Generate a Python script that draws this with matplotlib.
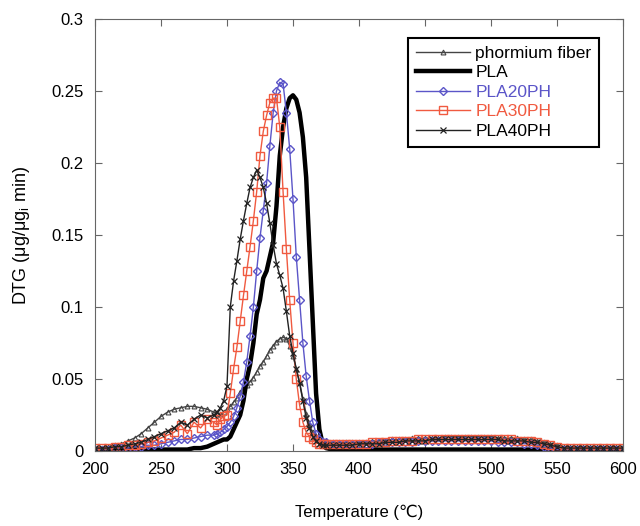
import numpy as np
import matplotlib
matplotlib.use("Agg")
from matplotlib import pyplot as plt
from matplotlib.ticker import FuncFormatter

# temperature grid: coarse at the ends, finer across the peaks
temp_low = np.arange(200, 290, 5)
temp_peak = np.arange(290, 377.5, 2.5)
temp_tail = np.arange(380, 605, 5)
temperature = np.concatenate([temp_low, temp_peak, temp_tail])

phormium = [
    0.002, 0.002, 0.003, 0.004, 0.005, 0.007, 0.009, 0.012, 0.016, 0.020, 0.024, 0.027, 0.029, 0.030, 0.031, 0.031, 0.030, 0.029,
    0.027, 0.026, 0.026, 0.027, 0.029, 0.031, 0.034, 0.037, 0.041, 0.044, 0.046, 0.048, 0.051, 0.055, 0.059, 0.062, 0.066, 0.070,
    0.073, 0.076, 0.078, 0.079, 0.078, 0.073, 0.066, 0.057, 0.048, 0.036, 0.026, 0.018, 0.013, 0.010, 0.008, 0.007, 0.007,
    0.006, 0.006, 0.006, 0.006, 0.006, 0.006, 0.007, 0.007, 0.007, 0.008, 0.008, 0.008, 0.009, 0.009, 0.009, 0.009, 0.009, 0.010,
    0.010, 0.010, 0.010, 0.010, 0.010, 0.010, 0.010, 0.009, 0.009, 0.009, 0.009, 0.008, 0.008, 0.007, 0.006, 0.005, 0.004, 0.003,
    0.003, 0.003, 0.003, 0.003, 0.003, 0.003, 0.003, 0.003, 0.003,
]
pla = [
    0.001, 0.001, 0.001, 0.001, 0.001, 0.001, 0.001, 0.001, 0.001, 0.001, 0.001, 0.001, 0.001, 0.001, 0.001, 0.002, 0.002, 0.003,
    0.005, 0.006, 0.007, 0.008, 0.008, 0.010, 0.015, 0.020, 0.025, 0.035, 0.050, 0.060, 0.075, 0.095, 0.105, 0.120, 0.125, 0.135,
    0.145, 0.170, 0.205, 0.225, 0.238, 0.245, 0.247, 0.244, 0.235, 0.218, 0.190, 0.140, 0.090, 0.040, 0.015, 0.005, 0.002,
    0.001, 0.001, 0.001, 0.001, 0.001, 0.001, 0.001, 0.001, 0.001, 0.001, 0.001, 0.001, 0.001, 0.001, 0.001, 0.001, 0.001, 0.001,
    0.001, 0.001, 0.001, 0.001, 0.001, 0.001, 0.001, 0.001, 0.001, 0.001, 0.001, 0.001, 0.001, 0.001, 0.001, 0.001, 0.001, 0.001,
    0.001, 0.001, 0.001, 0.001, 0.001, 0.001, 0.001, 0.001, 0.001,
]
pla20ph = [
    0.001, 0.001, 0.001, 0.002, 0.002, 0.002, 0.003, 0.003, 0.004, 0.004, 0.005, 0.006, 0.007, 0.008, 0.008, 0.009, 0.010, 0.011,
    0.011, 0.012, 0.013, 0.015, 0.017, 0.020, 0.024, 0.030, 0.038, 0.048, 0.062, 0.080, 0.100, 0.125, 0.148, 0.167, 0.186, 0.212,
    0.235, 0.250, 0.256, 0.255, 0.235, 0.210, 0.175, 0.135, 0.105, 0.075, 0.052, 0.035, 0.020, 0.012, 0.008, 0.006, 0.006,
    0.005, 0.005, 0.005, 0.005, 0.005, 0.005, 0.005, 0.006, 0.006, 0.006, 0.006, 0.006, 0.006, 0.007, 0.007, 0.007, 0.007, 0.007,
    0.007, 0.007, 0.007, 0.007, 0.007, 0.007, 0.007, 0.006, 0.006, 0.006, 0.006, 0.005, 0.005, 0.004, 0.003, 0.002, 0.001, 0.001,
    0.001, 0.001, 0.001, 0.001, 0.001, 0.001, 0.001, 0.001, 0.001,
]
pla30ph = [
    0.002, 0.002, 0.002, 0.003, 0.003, 0.004, 0.004, 0.005, 0.006, 0.007, 0.009, 0.011, 0.013, 0.018, 0.012, 0.020, 0.016, 0.022,
    0.020, 0.018, 0.022, 0.024, 0.025, 0.040, 0.057, 0.072, 0.090, 0.108, 0.125, 0.142, 0.160, 0.180, 0.205, 0.222, 0.233, 0.242,
    0.245, 0.245, 0.225, 0.180, 0.140, 0.105, 0.075, 0.050, 0.032, 0.020, 0.013, 0.010, 0.008, 0.006, 0.005, 0.005, 0.005,
    0.005, 0.005, 0.005, 0.005, 0.005, 0.005, 0.006, 0.006, 0.006, 0.007, 0.007, 0.007, 0.007, 0.008, 0.008, 0.008, 0.008, 0.008,
    0.008, 0.008, 0.008, 0.008, 0.008, 0.008, 0.008, 0.008, 0.008, 0.008, 0.007, 0.007, 0.007, 0.006, 0.005, 0.004, 0.003, 0.002,
    0.002, 0.002, 0.002, 0.002, 0.002, 0.002, 0.002, 0.002, 0.002,
]
pla40ph = [
    0.002, 0.002, 0.002, 0.003, 0.003, 0.004, 0.005, 0.006, 0.008, 0.010, 0.012, 0.014, 0.016, 0.020, 0.018, 0.022, 0.025, 0.023,
    0.025, 0.027, 0.030, 0.035, 0.045, 0.100, 0.118, 0.132, 0.147, 0.160, 0.172, 0.183, 0.190, 0.195, 0.190, 0.183, 0.172, 0.158,
    0.143, 0.130, 0.122, 0.113, 0.097, 0.080, 0.068, 0.057, 0.047, 0.035, 0.023, 0.016, 0.010, 0.007, 0.005, 0.004, 0.004,
    0.004, 0.004, 0.004, 0.004, 0.005, 0.005, 0.005, 0.005, 0.006, 0.006, 0.006, 0.007, 0.007, 0.007, 0.007, 0.008, 0.008, 0.008,
    0.008, 0.008, 0.008, 0.008, 0.008, 0.008, 0.008, 0.008, 0.007, 0.007, 0.007, 0.007, 0.006, 0.006, 0.005, 0.004, 0.003, 0.002,
    0.002, 0.002, 0.002, 0.002, 0.002, 0.002, 0.002, 0.002, 0.002,
]

plt.rcParams["font.family"] = ["Liberation Sans", "DejaVu Sans"]
plt.rcParams["mathtext.fontset"] = "custom"
plt.rcParams["mathtext.rm"] = "Liberation Sans"
plt.rcParams["mathtext.it"] = "Liberation Sans:italic"
fig = plt.figure(figsize=(6.4, 5.26), dpi=100)
ax = fig.add_axes([0.1484, 0.1426, 0.825, 0.8213])

ax.plot(temperature, phormium, color="#444444", lw=1.0, marker="^", ms=3.5, mfc="none", mew=0.8,
        label="phormium fiber")
ax.plot(temperature, pla, color="black", lw=3.2, label="PLA")
ax.plot(temperature, pla20ph, color="#5b55c8", lw=1.0, marker="D", ms=4.5, mfc="none", mew=1.0,
        label="PLA20PH")
ax.plot(temperature, pla30ph, color="#f05a40", lw=1.0, marker="s", ms=6, mfc="none", mew=1.0,
        label="PLA30PH")
ax.plot(temperature, pla40ph, color="#222222", lw=1.0, marker="x", ms=4, mew=0.9, label="PLA40PH")

ax.set_xlim(200, 600)
ax.set_ylim(0, 0.3)
ax.set_xticks(np.arange(200, 650, 50))
ax.set_yticks(np.arange(0, 0.31, 0.05))
ax.yaxis.set_major_formatter(FuncFormatter(lambda v, p: f"{v:.2f}".rstrip("0").rstrip(".")))
ax.tick_params(direction="in", top=True, right=True, labelsize=12, length=5, color="#666666", pad=8)
for s in ax.spines.values():
    s.set_color("#666666")

ax.set_xlabel("Temperature (℃)", fontsize=12, labelpad=20)
ax.set_ylabel(r"DTG (μg/μg$_\mathrm{i}$ min)", fontsize=13, labelpad=14)

leg = ax.legend(loc="upper right", bbox_to_anchor=(0.955, 0.956), borderaxespad=0, fontsize=12.5,
                fancybox=False, edgecolor="black", framealpha=1, handlelength=3.1, borderpad=0.45,
                labelspacing=0.25, handletextpad=0.3)
leg.get_frame().set_linewidth(1.5)
for txt, c in zip(leg.get_texts(), ["black", "black", "#5b55c8", "#f05a40", "black"]):
    txt.set_color(c)

fig.savefig("out.png", dpi=100)
